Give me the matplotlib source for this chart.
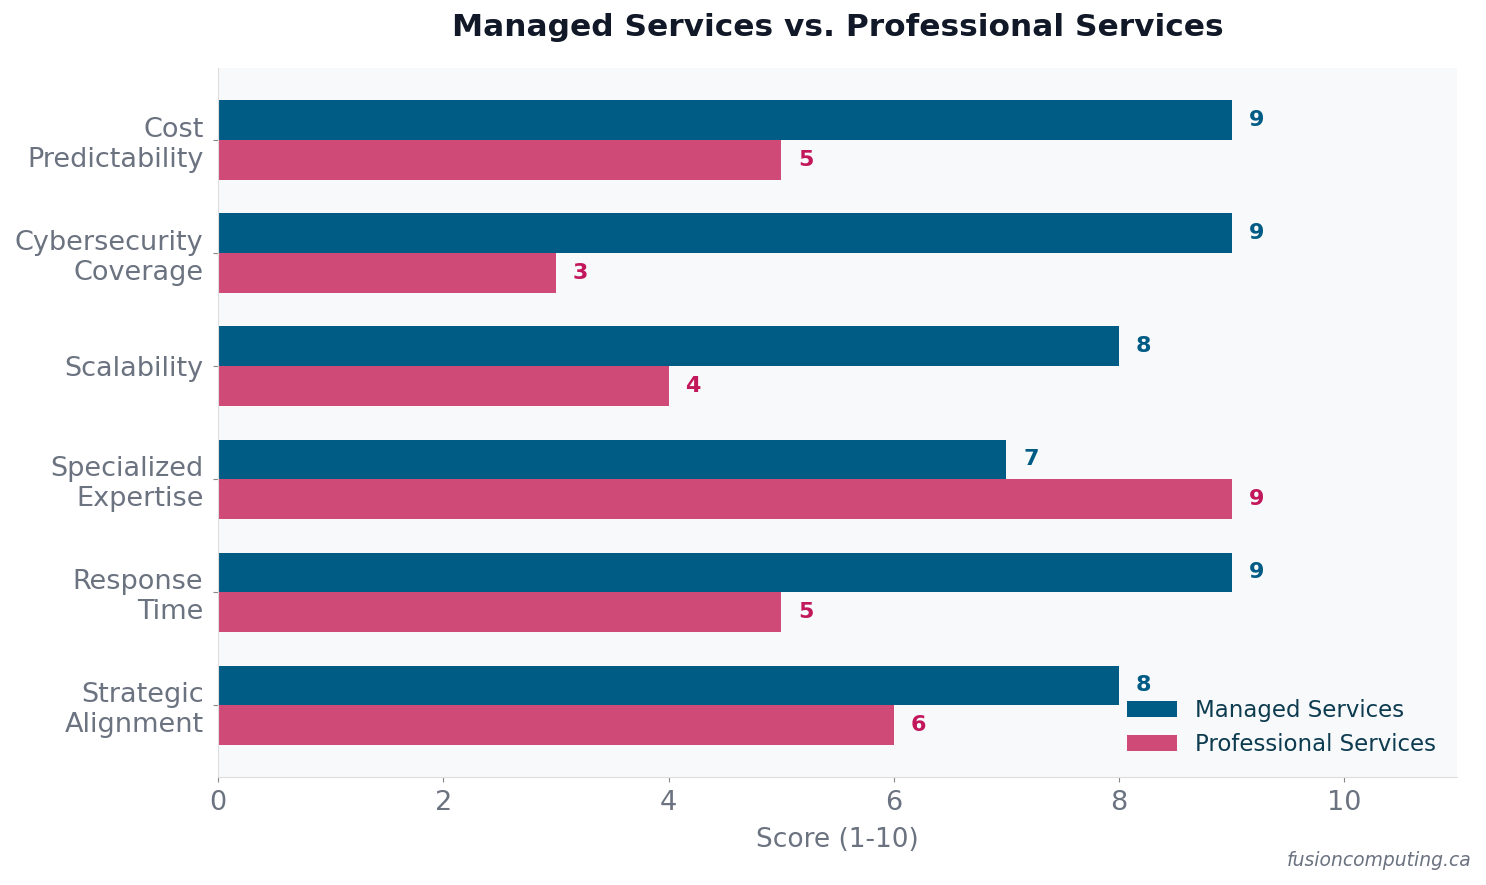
import matplotlib.pyplot as plt
import numpy as np

categories = ["Cost\nPredictability", "Cybersecurity\nCoverage", "Scalability",
              "Specialized\nExpertise", "Response\nTime", "Strategic\nAlignment"]
managed = [9, 9, 8, 7, 9, 8]
professional = [5, 3, 4, 9, 5, 6]

c_managed = "#005b85"
c_prof = "#d04a77"
c_prof_text = "#c2185b"
grey = "#6b7280"

fig, ax = plt.subplots(figsize=(14.86, 8.85), dpi=100)
fig.subplots_adjust(left=0.1467, right=0.9805, top=0.923, bottom=0.122)
ax.set_facecolor("#f8f9fb")

y = np.arange(len(categories))
h = 0.35
ax.barh(y - h / 2, managed, height=h, color=c_managed, label="Managed Services")
ax.barh(y + h / 2, professional, height=h, color=c_prof, label="Professional Services")

for yi, v in zip(y, managed):
    ax.text(v + 0.15, yi - h / 2, str(v), va="center", ha="left",
            fontsize=16, fontweight="bold", color=c_managed)
for yi, v in zip(y, professional):
    ax.text(v + 0.15, yi + h / 2, str(v), va="center", ha="left",
            fontsize=16, fontweight="bold", color=c_prof_text)

ax.set_yticks(y, categories)
ax.invert_yaxis()
ax.set_xlim(0, 11)
ax.set_xticks([0, 2, 4, 6, 8, 10])
ax.tick_params(axis="both", colors="#888888", labelcolor=grey, labelsize=19.5,
               length=3.5)
ax.tick_params(axis="x", pad=6)
ax.tick_params(axis="y", pad=7)
ax.set_xlabel("Score (1-10)", fontsize=19, color=grey, labelpad=8)

for s in ["top", "right"]:
    ax.spines[s].set_visible(False)
for s in ["left", "bottom"]:
    ax.spines[s].set_color("#dddddd")

ax.set_title("Managed Services vs. Professional Services", fontsize=22.5,
             fontweight="bold", color="#111827", pad=23)

leg = ax.legend(loc="lower right", frameon=False, fontsize=16.5,
                handlelength=2.2, handleheight=0.7)
for t in leg.get_texts():
    t.set_color("#0d3b4f")

fig.text(0.99, 0.017, "fusioncomputing.ca", ha="right", va="bottom",
         fontsize=13.5, style="italic", color=grey)

plt.savefig("out.png")
